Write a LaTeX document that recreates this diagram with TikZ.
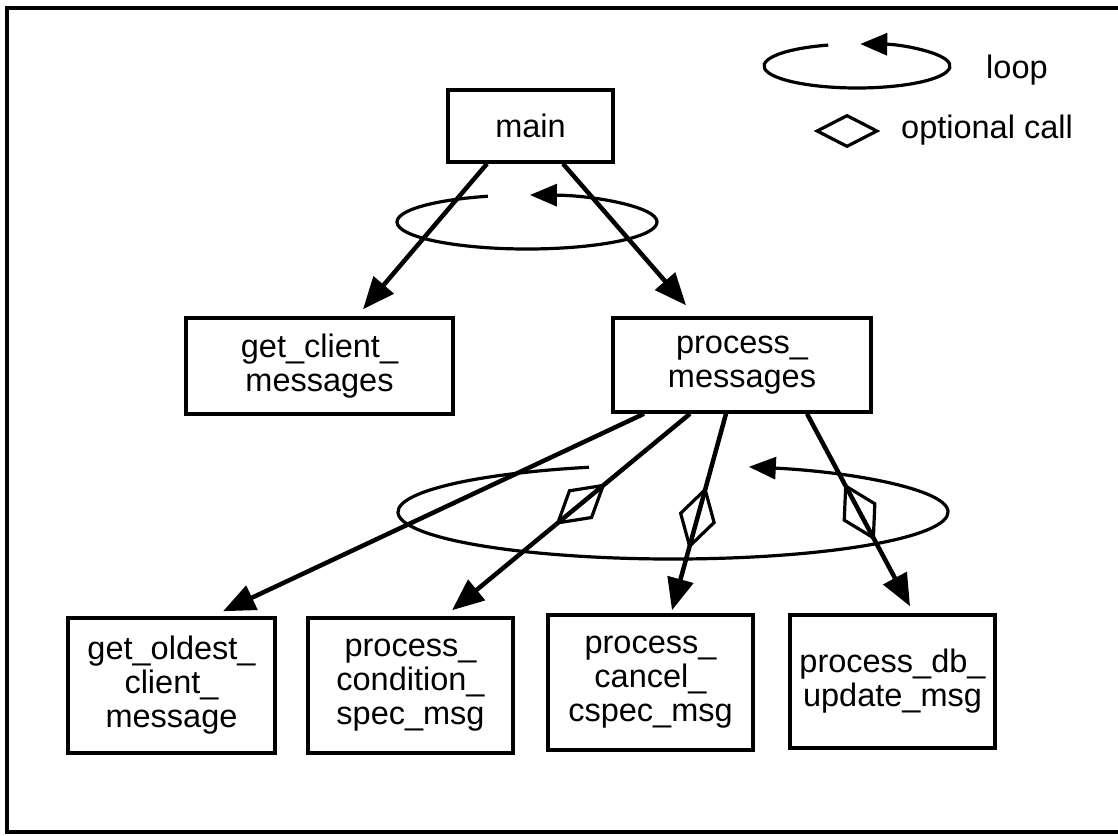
\documentclass[tikz,border=0pt]{standalone}
\usepackage{fontspec}
\setmainfont{Liberation Sans}
\usetikzlibrary{arrows.meta,shapes.geometric,calc}
\begin{document}
\begin{tikzpicture}[x=1pt,y=-1pt,
  txt/.style={font=\fontsize{32.5}{34}\selectfont},
  box/.style={txt, draw, line width=3.5pt, inner sep=0pt, align=center},
  call/.style={line width=4.5pt, -{Triangle[length=32pt,width=26pt]}},
  loopline/.style={line width=3.2pt, -{Triangle[length=27pt,width=22pt]}},
  opt/.style={draw, line width=3.2pt, shape=diamond, minimum width=60pt,
              minimum height=36pt, inner sep=0pt}]
\useasboundingbox (0,0) rectangle (1118,835);

% frame (open on the right)
\draw[line width=3.5pt] (1118,8) -- (7,8) -- (7,832) -- (1118,832);

% call tree
\node[box, minimum width=165pt, minimum height=72pt] (main) at (530.5,126) {main};
\node[box, minimum width=267pt, minimum height=96pt] (gcm) at (319.5,366) {get\_client\_\\messages};
\node[box, minimum width=258pt, minimum height=94pt] (pm) at (742,365) {process\_\\messages};
\node[box, minimum width=207pt, minimum height=135pt] (go) at (171.5,685.5) {get\_oldest\_\\client\_\\message};
\node[box, minimum width=205pt, minimum height=135pt] (pc) at (410.5,685.5) {process\_\\condition\_\\spec\_msg};
\node[box, minimum width=205pt, minimum height=135pt] (cc) at (650.5,682.5) {process\_\\cancel\_\\cspec\_msg};
\node[box, minimum width=205pt, minimum height=133pt] (db) at (892.5,681.5) {process\_db\_\\update\_msg};

\draw[call] ($(main.south)+(-43.5,0)$) -- ($(gcm.north)+(43.5,-7)$);
\draw[call] ($(main.south)+(32.5,0)$) -- ($(pm.north)+(-56,-11)$);

\draw[call] ($(pm.south)+(-98,0)$) -- ($(go.north)+(51.5,-5)$);
\draw[call] ($(pm.south)+(-52,0)$) -- node[opt, sloped, pos=0.46] (d1) {} ($(pc.north)+(41.5,-6)$);
\draw[call] ($(pm.south)+(-16,0)$) -- node[opt, sloped, pos=0.53] (d2) {} ($(cc.north)+(21.5,-3)$);
\draw[call] ($(pm.south)+(65,0)$) -- node[opt, sloped, pos=0.51] (d3) {} ($(db.north)+(17.5,-7)$);

% loops
\coordinate (l1) at (527,222);
\draw[loopline] (l1) ++(252.5:130 and 27) arc[start angle=252.5, end angle=-88.7, x radius=130, y radius=27];
\coordinate (l2) at (673,512);
\draw[loopline] (l2) ++(252.2:275 and 47) arc[start angle=252.2, end angle=-74, x radius=275, y radius=47];

% legend
\coordinate (l3) at (857,66);
\draw[loopline] (l3) ++(252:93 and 22) arc[start angle=252, end angle=-88, x radius=93, y radius=22];
\node[txt, anchor=west, inner sep=0pt] (looplbl) at (986,70) {loop};
\node[opt, minimum width=61pt, minimum height=32pt] (legd) at (847,131) {};
\node[txt, anchor=west, inner sep=0pt] (optlbl) at (901,130) {optional call};
\end{tikzpicture}
\end{document}
